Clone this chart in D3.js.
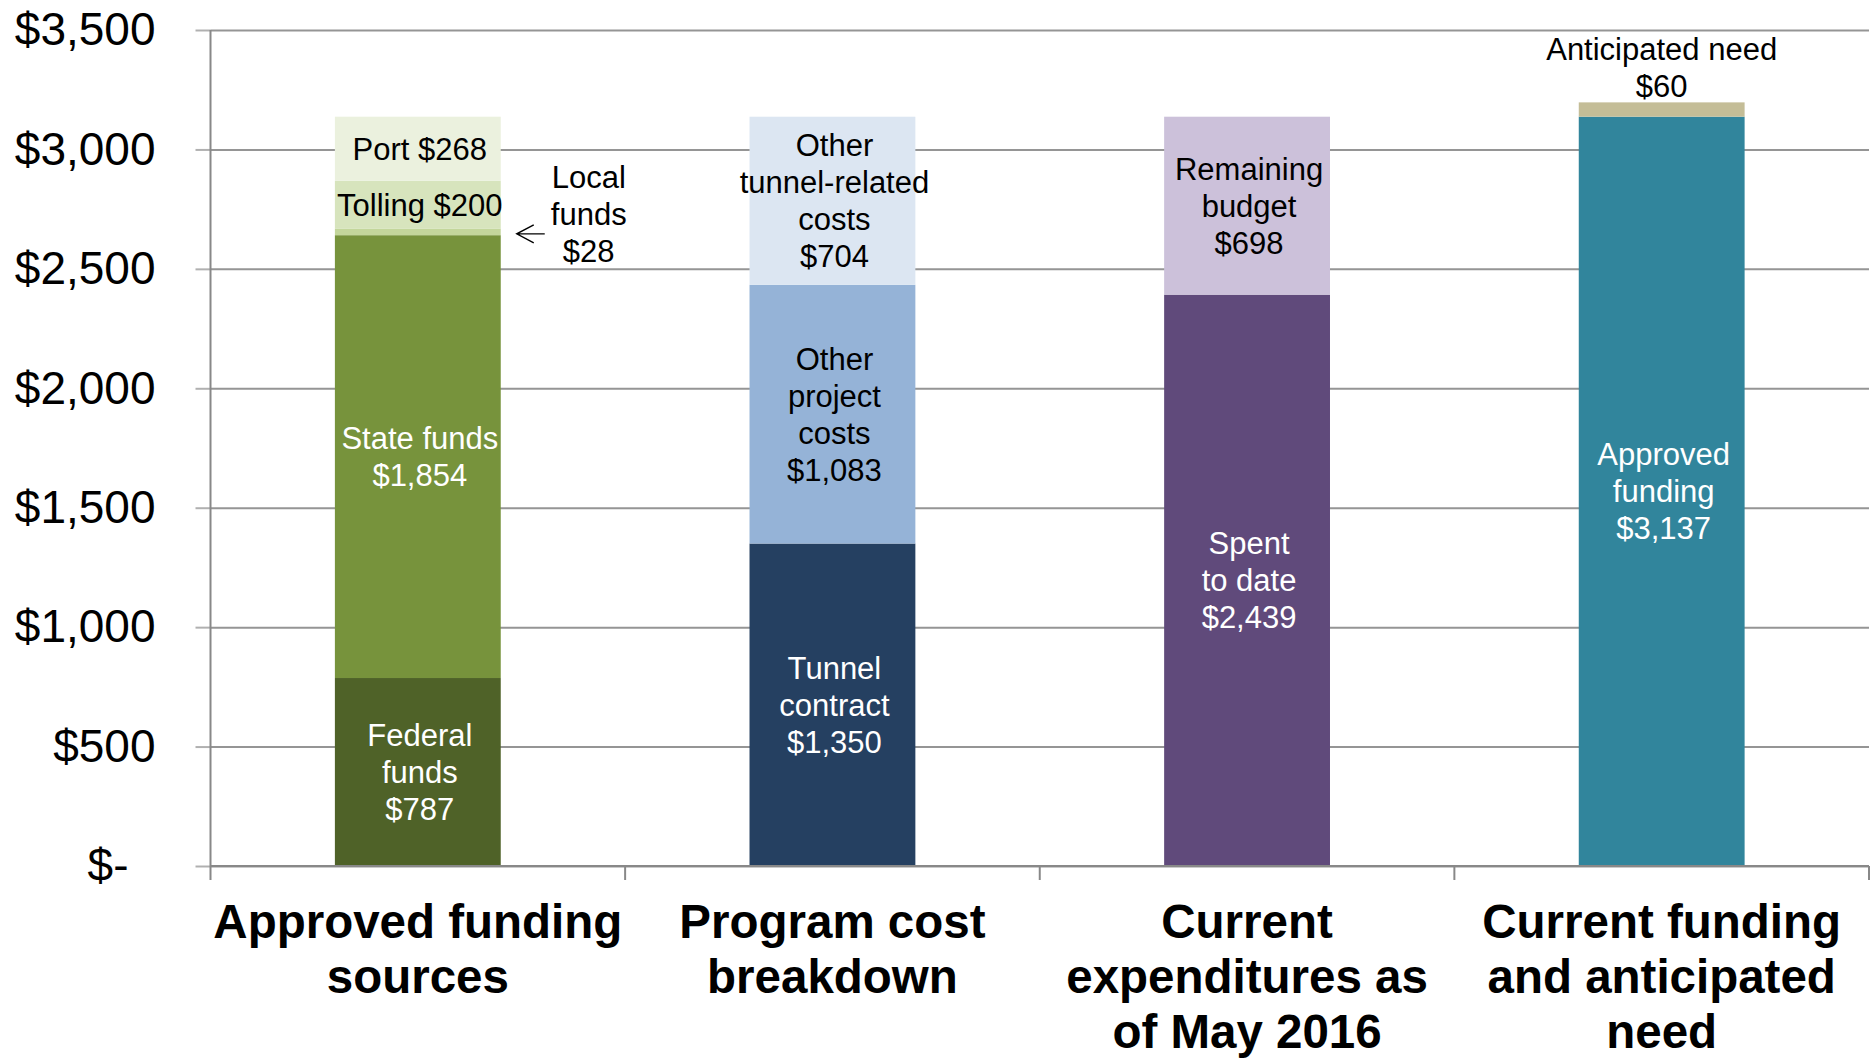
<!DOCTYPE html>
<html>
<head>
<meta charset="utf-8">
<script src="https://cdn.jsdelivr.net/npm/d3@7"></script>
<style>
    body { margin: 0; background: #fff; }
    svg text { font-family: "Liberation Sans", Arial, sans-serif; }
</style>
</head>
<body>
<svg id="chart" width="1875" height="1058"></svg>
<script>
// Categories (one stacked bar each), wrapped as in the reference
const categories = ["funding", "program", "spent", "need"];
const categoryLines = [
    ["Approved funding", "sources"],
    ["Program cost", "breakdown"],
    ["Current", "expenditures as", "of May 2016"],
    ["Current funding", "and anticipated", "need"]
];

// Segments of each bar, bottom to top ($ millions)
const fundingNames = ["Federal\nfunds", "State funds", "Local\nfunds", "Tolling", "Port"];
const fundingValues = [787, 1854, 28, 200, 268];

const programNames = ["Tunnel\ncontract", "Other\nproject\ncosts", "Other\ntunnel-related\ncosts"];
const programValues = [1350, 1083, 704];

// the bar is drawn split at ~2,392 in the picture, but labelled 2,439 / 698
const spentNames = ["Spent\nto date", "Remaining\nbudget"];
const spentValues = [2392, 745];
const spentLabelValues = [2439, 698];

const needNames = ["Approved\nfunding", "Anticipated need"];
const needValues = [3137, 60];

const yTicks = [0, 500, 1000, 1500, 2000, 2500, 3000, 3500];

// Colours, same order as the segments
const fundingColors = ["#4f6228", "#77933c", "#c3d69b", "#d7e4bd", "#ebf1de"];
const programColors = ["#254061", "#95b3d7", "#dce6f2"];
const spentColors = ["#604a7b", "#ccc1da"];
const needColors = ["#31859c", "#c4bd97"];

// labels that keep the amount on the same line
const inlineLabels = ["Tolling", "Port"];

const dollars = d3.format("$,");

// build stacked segments per bar
function stackBar(cat, names, values, colors, labelValues) {
    const tops = d3.cumsum(values);
    return values.map((v, i) => ({
        cat: cat,
        name: names[i],
        value: v,
        amount: labelValues ? labelValues[i] : v,
        y0: tops[i] - v,
        y1: tops[i],
        color: colors[i],
        dark: d3.hsl(colors[i]).l < 0.55
    }));
}

const bars = [
    stackBar("funding", fundingNames, fundingValues, fundingColors),
    stackBar("program", programNames, programValues, programColors),
    stackBar("spent", spentNames, spentValues, spentColors, spentLabelValues),
    stackBar("need", needNames, needValues, needColors)
];
const segments = bars.flat();

const plotLeft = 210.5, plotRight = 1869, plotTop = 30, plotBottom = 866;

const svg = d3.select('#chart');

const x = d3.scaleBand()
    .domain(categories)
    .range([plotLeft, plotRight])
    .paddingInner(0.6)
    .paddingOuter(0.3);

const y = d3.scaleLinear()
    .domain([0, 3500])
    .range([plotBottom, plotTop]);

// Gridlines + y labels
const yAxis = svg.append('g')
    .attr('transform', 'translate(' + plotLeft + ',0)')
    .call(d3.axisLeft(y)
        .tickValues(yTicks)
        .tickSize(15)
        .tickPadding(40)
        .tickFormat(d => d === 0 ? "$-" : dollars(d)));
yAxis.select('.domain').remove();
yAxis.selectAll('.tick line').attr('stroke', '#b0b0b0').attr('stroke-width', 2);
yAxis.selectAll('.tick')
    .append('line')
    .attr('x1', 0)
    .attr('x2', plotRight - plotLeft)
    .attr('stroke', '#959595')
    .attr('stroke-width', 2);
yAxis.selectAll('.tick text')
    .attr('font-size', 46)
    .attr('fill', '#000')
    .attr('dx', d => d === 0 ? -27 : 0);

// Bars
svg.append('g')
    .selectAll('rect')
    .data(segments)
    .enter()
    .append('rect')
    .attr('x', d => x(d.cat))
    .attr('width', x.bandwidth())
    .attr('y', d => y(d.y1))
    .attr('height', d => y(d.y0) - y(d.y1))
    .attr('fill', d => d.color);

// y axis line and x axis baseline, with ticks between categories
const axisColor = '#888888';
svg.append('line')
    .attr('x1', plotLeft).attr('x2', plotLeft)
    .attr('y1', y(3500)).attr('y2', plotBottom + 14)
    .attr('stroke', axisColor).attr('stroke-width', 2);
svg.append('line')
    .attr('x1', plotLeft).attr('x2', plotRight)
    .attr('y1', plotBottom).attr('y2', plotBottom)
    .attr('stroke', axisColor).attr('stroke-width', 2);
svg.append('g')
    .selectAll('line')
    .data(d3.range(1, categories.length + 1))
    .enter()
    .append('line')
    .attr('x1', i => x.range()[0] + i * x.step())
    .attr('x2', i => x.range()[0] + i * x.step())
    .attr('y1', plotBottom)
    .attr('y2', plotBottom + 14)
    .attr('stroke', axisColor)
    .attr('stroke-width', 2);

// Category labels
const catLabels = svg.append('g')
    .selectAll('text')
    .data(categories)
    .enter()
    .append('text')
    .attr('text-anchor', 'middle')
    .attr('font-size', 47.5)
    .attr('font-weight', 'bold')
    .attr('fill', '#000');
catLabels.each(function (c, i) {
    d3.select(this).selectAll('tspan')
        .data(categoryLines[i])
        .enter()
        .append('tspan')
        .attr('x', x(c) + x.bandwidth() / 2)
        .attr('y', (d, j) => 938 + j * 55)
        .text(d => d);
});

// Segment labels
const lineH = 37;
function labelLines(d) {
    const parts = d.name.split('\n');
    if (inlineLabels.includes(d.name)) {
        return [d.name + ' ' + dollars(d.amount)];
    }
    return parts.concat([dollars(d.amount)]);
}

const inside = segments.filter(d => d.name !== 'Local\nfunds' && d.name !== 'Anticipated need');
const outside = segments.filter(d => d.name === 'Local\nfunds' || d.name === 'Anticipated need');

function drawLabel(sel, cx, cy, lines) {
    sel.selectAll('tspan')
        .data(lines)
        .enter()
        .append('tspan')
        .attr('x', cx)
        .attr('y', (t, j) => cy + (j - (lines.length - 1) / 2) * lineH + 11)
        .text(t => t);
}

svg.append('g')
    .selectAll('text')
    .data(inside)
    .enter()
    .append('text')
    .attr('text-anchor', 'middle')
    .attr('font-size', 31)
    .attr('fill', d => d.dark ? '#fff' : '#000')
    .each(function (d) {
        const cx = x(d.cat) + x.bandwidth() / 2 + 2;
        const cy = (y(d.y0) + y(d.y1)) / 2;
        drawLabel(d3.select(this), cx, cy, labelLines(d));
    });

// Local funds: label to the right of the bar with an arrow
const local = outside[0];
const localY = y((local.y0 + local.y1) / 2) + 2;
const barRight = x(local.cat) + x.bandwidth();
svg.append('text')
    .attr('text-anchor', 'middle')
    .attr('font-size', 31)
    .attr('fill', '#000')
    .call(s => drawLabel(s, barRight + 88, localY - 20, labelLines(local)));
svg.append('path')
    .attr('d', 'M' + (barRight + 44) + ',' + localY + 'H' + (barRight + 16) +
        'M' + (barRight + 33) + ',' + (localY - 9) + 'L' + (barRight + 16) + ',' + localY +
        'L' + (barRight + 33) + ',' + (localY + 9))
    .attr('fill', 'none')
    .attr('stroke', '#000')
    .attr('stroke-width', 1.4);

// Anticipated need: label above the bar
const need = outside[1];
svg.append('text')
    .attr('text-anchor', 'middle')
    .attr('font-size', 31)
    .attr('fill', '#000')
    .call(s => drawLabel(s, x(need.cat) + x.bandwidth() / 2, y(need.y1) - 35, labelLines(need)));
</script>
</body>
</html>
